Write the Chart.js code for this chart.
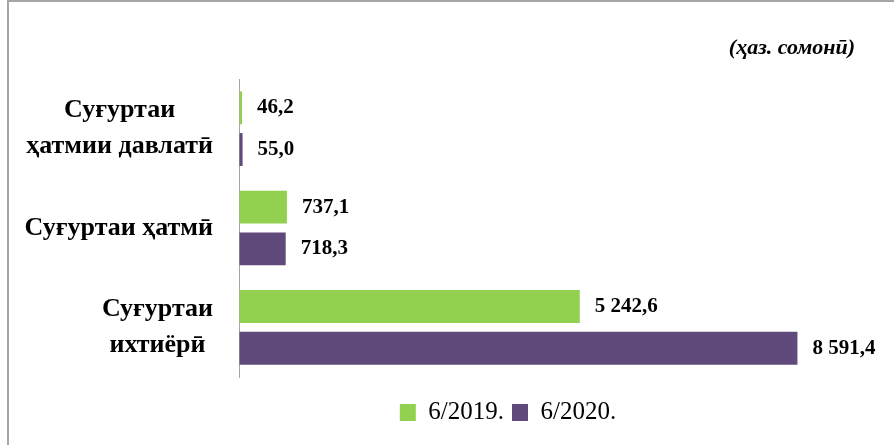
<!DOCTYPE html>
<html>
<head>
<meta charset="utf-8">
<script src="https://cdn.jsdelivr.net/npm/chart.js@4"></script>
<style>
  html, body { margin: 0; padding: 0; background: #fff; overflow: hidden; }
  #wrap { position: relative; width: 894px; height: 445px; }
  #frame {
    position: absolute; left: 7px; top: 0; width: 1000px; height: 1000px;
    border-left: 2px solid #a6a6a6; border-top: 2px solid #a6a6a6;
  }
  canvas { position: absolute; left: 0; top: 0; }
</style>
</head>
<body>
<div id="wrap">
  <div id="frame"></div>
  <canvas id="chart" width="894" height="445"></canvas>
</div>
<script>
// ── Daten ────────────────────────────────────────────────────
const categories = [
  ['Суғуртаи', 'ҳатмии давлатӣ'],
  ['Суғуртаи ҳатмӣ'],
  ['Суғуртаи', 'ихтиёрӣ']
];
const seriesNames = ['6/2019.', '6/2020.'];
const values2019 = [46.2, 737.1, 5242.6];
const values2020 = [55.0, 718.3, 8591.4];
const unitNote = '(ҳаз. сомонӣ)';

const GREEN  = '#92d050';
const PURPLE = '#604a7b';
const SERIF  = "'Liberation Serif', 'DejaVu Serif', serif";

// Zahl → "5 242,6"
function fmtNum(v) {
  const [int, dec] = v.toFixed(1).split('.');
  return int.replace(/\B(?=(\d{3})+(?!\d))/g, ' ') + ',' + dec;
}

// ── Plugins ──────────────────────────────────────────────────

// Kategorien links: jede Beschriftung als eigener zentrierter Block, rechtsbündig an der Achse
const catLabels = {
  id: 'catLabels',
  afterDraw(chart) {
    const { ctx } = chart;
    const y = chart.scales.y;
    const right = y.right - 26;
    const lh = 36;
    ctx.save();
    ctx.font = 'bold 26px ' + SERIF;
    ctx.fillStyle = '#000';
    ctx.textAlign = 'center';
    ctx.textBaseline = 'middle';
    categories.forEach((lines, i) => {
      const w = Math.max(...lines.map(l => ctx.measureText(l).width));
      const cx = right - w / 2;
      const cy = y.getPixelForTick(i);
      lines.forEach((l, k) => {
        ctx.fillText(l, cx, cy + (k - (lines.length - 1) / 2) * lh);
      });
    });
    ctx.restore();
  }
};

// Werte hinter den Balken
const valueLabels = {
  id: 'valueLabels',
  afterDatasetsDraw(chart) {
    const { ctx } = chart;
    ctx.save();
    ctx.font = 'bold 21px ' + SERIF;
    ctx.fillStyle = '#000';
    ctx.textAlign = 'left';
    ctx.textBaseline = 'middle';
    chart.data.datasets.forEach((ds, di) => {
      chart.getDatasetMeta(di).data.forEach((bar, i) => {
        ctx.fillText(fmtNum(ds.data[i]), bar.x + 15, bar.y);
      });
    });
    ctx.restore();
  }
};

// Einheit oben rechts
const unitLabel = {
  id: 'unitLabel',
  afterDraw(chart) {
    const { ctx } = chart;
    ctx.save();
    ctx.font = 'italic bold 22px ' + SERIF;
    ctx.fillStyle = '#000';
    ctx.textAlign = 'right';
    ctx.textBaseline = 'middle';
    ctx.fillText(unitNote, 855, 48);
    ctx.restore();
  }
};

// ── Chart ────────────────────────────────────────────────────

new Chart(document.getElementById('chart'), {
  type: 'bar',
  data: {
    labels: categories,
    datasets: [
      { label: seriesNames[0], data: values2019, backgroundColor: GREEN },
      { label: seriesNames[1], data: values2020, backgroundColor: PURPLE }
    ]
  },
  options: {
    indexAxis: 'y',
    responsive: false,
    animation: false,
    categoryPercentage: 0.84,
    barPercentage: 0.79,
    layout: { padding: { top: 79, left: 127, right: 5, bottom: 10 } },
    plugins: {
      tooltip: { enabled: false },
      legend: {
        position: 'bottom',
        labels: {
          boxWidth: 16,
          boxHeight: 17,
          padding: 8,
          color: '#000',
          font: { family: SERIF, size: 25 }
        }
      }
    },
    scales: {
      x: {
        min: 0,
        max: 10000,
        grid: { display: true, drawOnChartArea: false, color: 'transparent', tickLength: 15 },
        border: { display: false },
        ticks: { display: false }
      },
      y: {
        grid: { display: false },
        border: { display: true, color: '#a6a6a6', width: 1 },
        ticks: { display: false },
        afterFit(scale) { scale.width = 112; }
      }
    }
  },
  plugins: [catLabels, valueLabels, unitLabel]
});
</script>
</body>
</html>
